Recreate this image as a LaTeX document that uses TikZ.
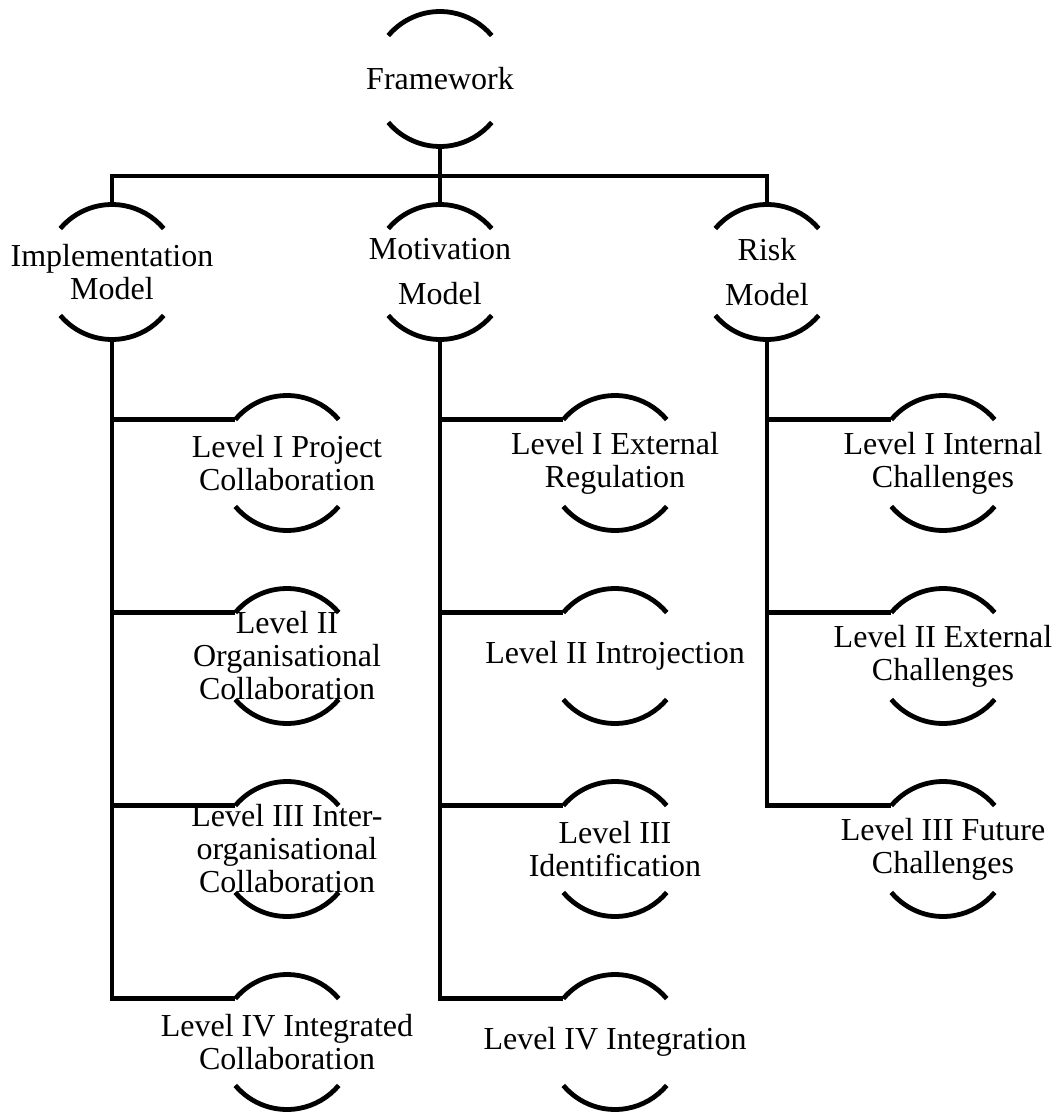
\documentclass[tikz,border=0pt]{standalone}
\usepackage{fontspec}
\setmainfont{Liberation Serif}
\begin{document}
\begin{tikzpicture}[x=0.5pt,y=0.5pt,
  lbl/.style={inner sep=0pt, align=center, font=\fontsize{16}{16.5}\selectfont},
  capline/.style={line width=2.4pt},
  wire/.style={line width=2.4pt, line join=miter}]
\useasboundingbox (0,0) rectangle (1059,-1112);
% A labelled node framed by an upper and a lower cap arc of one circle;
% #1 name, #2 x, #3 y, #4 label.  Adds coordinates #1-in (left end of the
% upper cap), #1-top and #1-bot (apexes of the two caps).
\newcommand\capnode[4]{%
  \node[lbl] (#1) at (#2,#3) {#4};
  \draw[capline] ([shift={(140:33.75pt)}]#1.center) arc[start angle=140,end angle=40,radius=33.75pt];
  \draw[capline] ([shift={(220:33.75pt)}]#1.center) arc[start angle=220,end angle=320,radius=33.75pt];
  \coordinate (#1-in) at ([shift={(140:33.75pt)}]#1.center);
  \coordinate (#1-top) at ([shift={(90:33.75pt)}]#1.center);
  \coordinate (#1-bot) at ([shift={(270:33.75pt)}]#1.center);
}
% root
\capnode{fw}{440}{-79}{Framework}
% models
\capnode{impl}{112}{-272}{Implementation\\Model}
\capnode{motiv}{440}{-272}{Motivation\\[6pt]Model}
\capnode{risk}{767}{-272}{Risk\\[6pt]Model}
% implementation levels
\capnode{i1}{287}{-463}{Level I Project\\Collaboration}
\capnode{i2}{287}{-656}{Level II\\Organisational\\Collaboration}
\capnode{i3}{287}{-849}{Level III Inter-\\organisational\\Collaboration}
\capnode{i4}{287}{-1042}{Level IV Integrated\\Collaboration}
% motivation levels
\capnode{m1}{615}{-463}{Level I External\\Regulation}
\capnode{m2}{615}{-656}{Level II Introjection}
\capnode{m3}{615}{-849}{Level III\\Identification}
\capnode{m4}{615}{-1042}{Level IV Integration}
% risk levels
\capnode{r1}{943}{-463}{Level I Internal\\Challenges}
\capnode{r2}{943}{-656}{Level II External\\Challenges}
\capnode{r3}{943}{-849}{Level III Future\\Challenges}
% bus from the root to the three models
\coordinate (bus) at (440,-176);
\draw[wire] (fw-bot) -- (bus);
\draw[wire] (impl-top) |- (bus) -| (risk-top);
\draw[wire] (bus) -- (motiv-top);
% spines and branches
\draw[wire] (impl-bot) |- (i4-in);
\draw[wire] (impl-bot |- i1-in) -- (i1-in);
\draw[wire] (impl-bot |- i2-in) -- (i2-in);
\draw[wire] (impl-bot |- i3-in) -- (i3-in);
\draw[wire] (motiv-bot) |- (m4-in);
\draw[wire] (motiv-bot |- m1-in) -- (m1-in);
\draw[wire] (motiv-bot |- m2-in) -- (m2-in);
\draw[wire] (motiv-bot |- m3-in) -- (m3-in);
\draw[wire] (risk-bot) |- (r3-in);
\draw[wire] (risk-bot |- r1-in) -- (r1-in);
\draw[wire] (risk-bot |- r2-in) -- (r2-in);
\end{tikzpicture}
\end{document}
